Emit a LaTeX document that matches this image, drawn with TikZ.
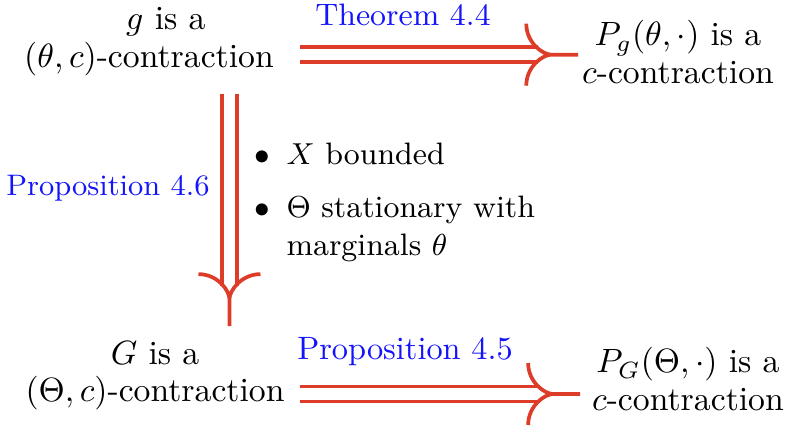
\documentclass[tikz,border=0pt]{standalone}
\usepackage{amsmath}
\usepackage{amssymb}
\usetikzlibrary{arrows.meta, positioning}
\definecolor{arrred}{RGB}{221,61,40}
\definecolor{refblue}{RGB}{20,20,250}

\begin{document}
\begin{tikzpicture}[
    txt/.style={
        align=center, inner sep=1pt,
        font=\fontsize{10}{11}\selectfont
    },
    lbl/.style={text=refblue, inner sep=0pt, anchor=base},
    rail/.style={draw=arrred, line width=1.1pt,
        double=white, double distance=3.3pt,
        shorten >=12pt},
    fork/.pic={
        \draw[arrred, line width=1.1pt]
            (-15.4pt,9.2pt) .. controls (-15.4pt,3.5pt)
            and (-10.5pt,0pt) .. (-8pt,0pt) -- (0pt,0pt)
            (-15.4pt,-9.2pt) .. controls (-15.4pt,-3.5pt)
            and (-10.5pt,0pt) .. (-8pt,0pt);
    }
]
\useasboundingbox (0,0) rectangle (8.218,-4.453);

% statements (base = last line)
\node[txt, anchor=base] (gcon) at (1.554,-0.699)
    {\hspace*{10pt}$g$ is a\\$(\theta,c)$-contraction};
\node[txt, anchor=base] (pgcon) at (7.071,-0.866)
    {$P_g(\theta,\cdot)$ is a\\$c$-contraction};
\node[txt, anchor=base] (Gcon) at (1.617,-4.192)
    {$G$ is a\\$(\Theta,c)$-contraction};
\node[txt, anchor=base] (PGcon) at (7.175,-4.276)
    {$P_G(\Theta,\cdot)$ is a\\$c$-contraction};

% references
\node[lbl, font=\fontsize{9.2}{11}\selectfont] (thm) at (4.203,-0.261) {Theorem 4.4};
\node[lbl, font=\fontsize{8.8}{11}\selectfont] (p46) at (1.126,-2.034) {Proposition 4.6};
\node[lbl, font=\fontsize{9.6}{11}\selectfont] (p45) at (4.224,-3.754) {Proposition 4.5};

% conditions
\node[anchor=base west, inner sep=0pt,
    font=\fontsize{9.2}{11.2}\selectfont] (cond) at (2.65,-1.72)
    {\begin{tabular}[t]{@{}l@{\hspace{4.8pt}}l@{}}
     $\bullet$ & $X$ bounded\\[4.4pt]
     $\bullet$ & $\Theta$ stationary with\\
               & marginals $\theta$
     \end{tabular}};

% implications
\coordinate (row1) at (0,-0.570);
\coordinate (row2) at (0,-4.109);
\coordinate (col) at (2.393,0);
\draw[rail] ([xshift=6.7pt]gcon.east |- row1) -- (pgcon.west |- row1);
\pic at (pgcon.west |- row1) {fork};
\draw[rail] ([yshift=-4.2pt]gcon.south -| col) -- ([yshift=3.5pt]Gcon.north -| col);
\pic[rotate=-90] at ([yshift=3.5pt]Gcon.north -| col) {fork};
\draw[rail] ([xshift=3.4pt]Gcon.east |- row2) -- ([xshift=-2.4pt]PGcon.west |- row2);
\pic at ([xshift=-2.4pt]PGcon.west |- row2) {fork};
\end{tikzpicture}
\end{document}
